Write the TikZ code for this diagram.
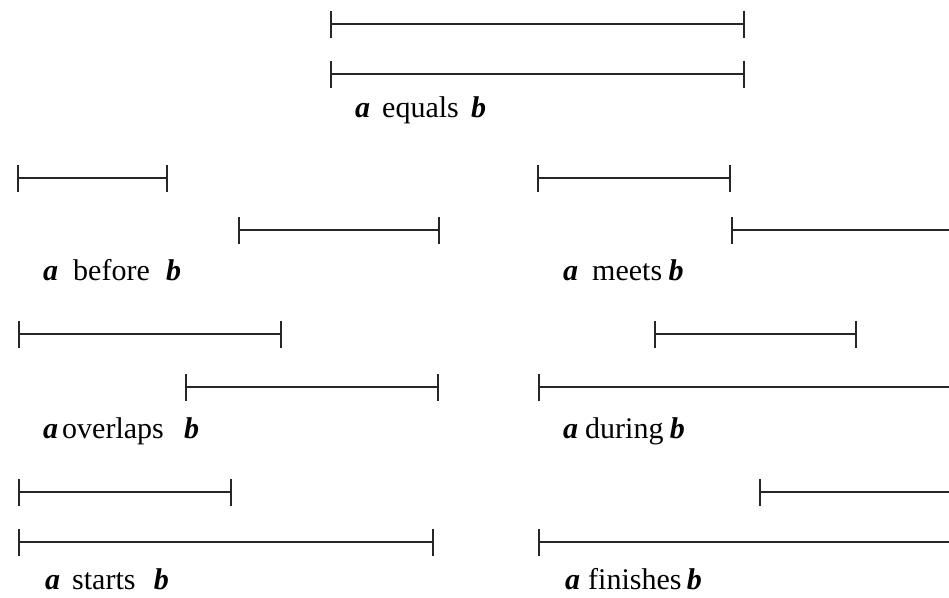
\documentclass[tikz,border=0pt]{standalone}
\usepackage{fontspec}
\setmainfont{Liberation Serif}
\usetikzlibrary{arrows.meta}

\begin{document}
\begin{tikzpicture}[x=1pt, y=-1pt,
  ival/.style={line width=1.6pt, black!85, {Bar[width=27pt,line width=1.8pt]}-{Bar[width=27pt,line width=1.8pt]}},
  cutival/.style={line width=1.6pt, black!85, {Bar[width=27pt,line width=1.8pt]}-},
  lbl/.style={anchor=base west, inner sep=0pt, font=\fontsize{30}{34}\selectfont},
  var/.style={anchor=base west, inner sep=0pt, font=\fontsize{30}{34}\selectfont\bfseries\itshape}]
% Allen relations: interval a (upper) vs interval b (lower)
\useasboundingbox (0,0) rectangle (949,597);

% Interval a
\foreach \xs/\xe/\y in {330/745/24, 17/168/178, 537/731/178, 18/282/334, 654/857/334, 18/232/492} {
    \draw[ival] (\xs,\y) -- (\xe,\y);
}
\draw[cutival] (759,492) -- (949,492);

% Interval b
\foreach \xs/\xe/\y in {330/745/74, 238/440/230, 185/439/387, 18/434/542} {
    \draw[ival] (\xs,\y) -- (\xe,\y);
}
\foreach \xs/\y in {731/230, 538/387, 538/542} {
    \draw[cutival] (\xs,\y) -- (949,\y);
}

% Labels
\foreach \nm/\xa/\xw/\gap/\yb in {equals/355/382/12/117, before/43/73/16/280,
    meets/563/592/6/280, overlaps/43/62/20/438, during/563/585/6/438,
    starts/45/72/18/589, finishes/565/588/5/589} {
    \node[var] (\nm-a) at (\xa,\yb) {a};
    \node[lbl] (\nm-w) at (\xw,\yb) {\nm};
    \node[var, xshift=\gap pt] (\nm-b) at (\nm-w.base east) {b};
}
\end{tikzpicture}
\end{document}
